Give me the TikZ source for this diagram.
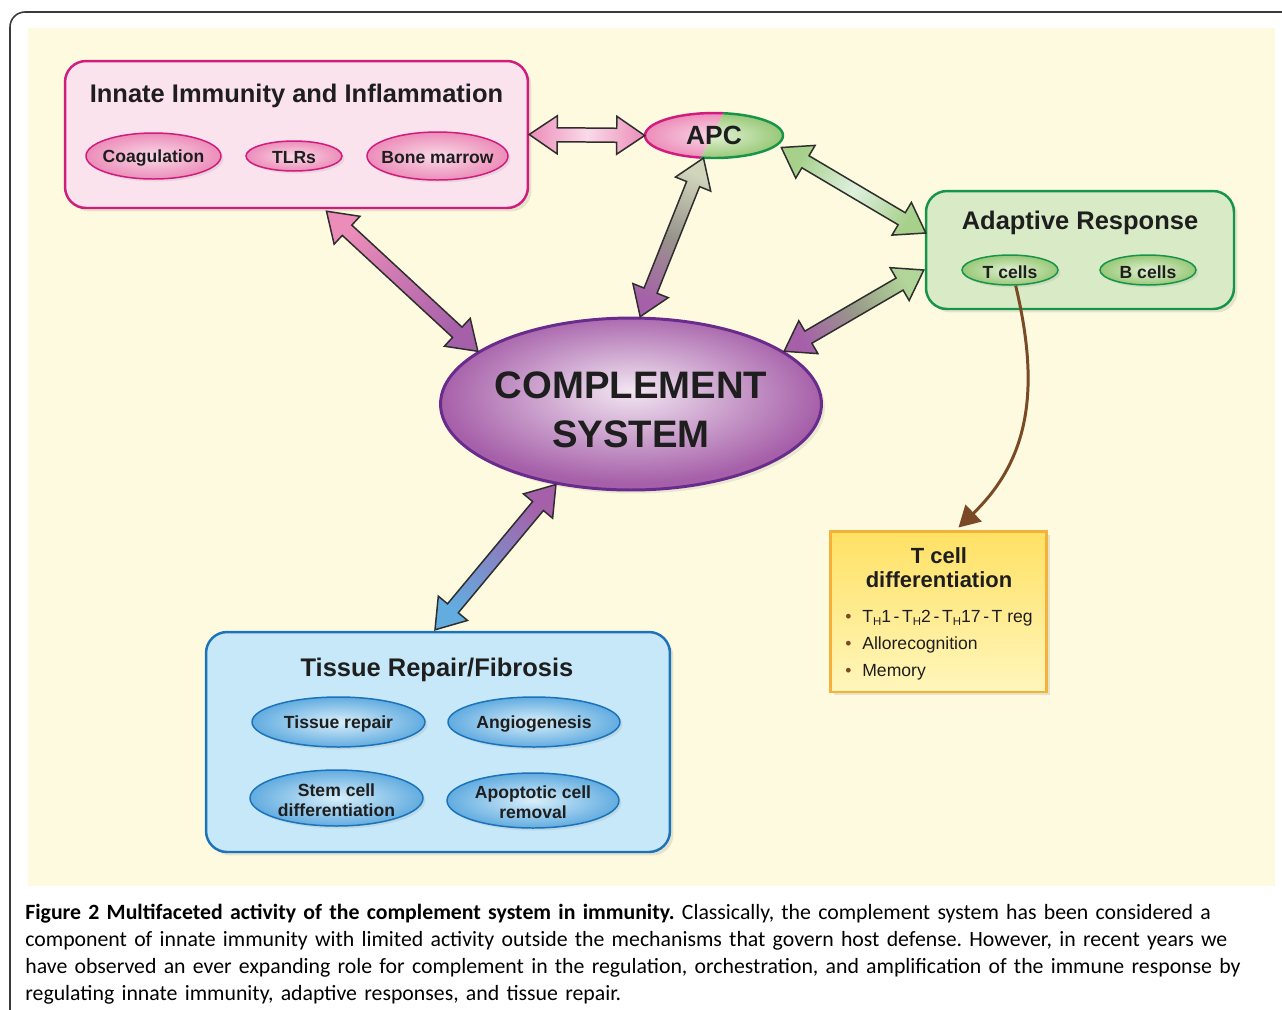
\documentclass[tikz,border=0pt]{standalone}
\usepackage{fontspec}
\setmainfont{Liberation Sans}
\newfontfamily\capfont{Carlito}
\usetikzlibrary{calc,shapes.geometric,shadows,arrows.meta}

\definecolor{cream}{HTML}{FDFADF}
\definecolor{framegray}{HTML}{3A3A3A}
\definecolor{inktext}{HTML}{1E1E1E}
\definecolor{pinkline}{HTML}{D01C7E}
\definecolor{pinkfill}{HTML}{FBE3EE}
\definecolor{pinkin}{HTML}{FADAE8}
\definecolor{pinkout}{HTML}{EC8DB9}
\definecolor{greenline}{HTML}{16954A}
\definecolor{greenfill}{HTML}{D9EBC6}
\definecolor{greenin}{HTML}{E2F1D3}
\definecolor{greenout}{HTML}{98C877}
\definecolor{blueline}{HTML}{1C73B9}
\definecolor{bluefill}{HTML}{C7E8F8}
\definecolor{bluein}{HTML}{D8EFFA}
\definecolor{blueout}{HTML}{62ACE0}
\definecolor{purpleline}{HTML}{6A2C8C}
\definecolor{purplein}{HTML}{F2E6F2}
\definecolor{purpleout}{HTML}{A660A9}
\definecolor{orangeline}{HTML}{F5B23B}
\definecolor{yellowtop}{HTML}{FFE164}
\definecolor{yellowbot}{HTML}{FFF6BC}
\definecolor{tbrown}{HTML}{7A4926}
\definecolor{arrowline}{HTML}{2E2E2E}

\pgfdeclareradialshading{pinkglow}{\pgfpoint{0bp}{0bp}}{color(0bp)=(pinkin); color(25bp)=(pinkout); color(50bp)=(pinkout)}
\pgfdeclareradialshading{greenglow}{\pgfpoint{0bp}{0bp}}{color(0bp)=(greenin); color(25bp)=(greenout); color(50bp)=(greenout)}
\pgfdeclareradialshading{blueglow}{\pgfpoint{0bp}{0bp}}{color(0bp)=(bluein); color(25bp)=(blueout); color(50bp)=(blueout)}
\pgfdeclareradialshading{purpleglow}{\pgfpoint{0bp}{4bp}}{color(0bp)=(purplein); color(25bp)=(purpleout); color(50bp)=(purpleout)}

% sizes of the fat two-headed arrows
\newcommand{\headlen}{0.56cm}
\newcommand{\headhalf}{0.38cm}
\newcommand{\shafthalf}{0.14cm}
% fat two-headed arrow: #1 from, #2 to, #3 colour at #1, #4 middle, #5 colour at #2
\newcommand{\fatarrow}[5]{%
  \pgfmathanglebetweenpoints{\pgfpointanchor{#1}{center}}{\pgfpointanchor{#2}{center}}%
  \pgfmathsetmacro{\fatangle}{\pgfmathresult+90}%
  \path[fatbody, left color=#3, right color=#5, middle color=#4, shading angle=\fatangle]
    (#1) -- ($(#1)!\headlen!(#2)!\headhalf!90:(#2)$)
    -- ($(#1)!\headlen!(#2)!\shafthalf!90:(#2)$)
    -- ($(#2)!\headlen!(#1)!\shafthalf!-90:(#1)$)
    -- ($(#2)!\headlen!(#1)!\headhalf!-90:(#1)$)
    -- (#2)
    -- ($(#2)!\headlen!(#1)!\headhalf!90:(#1)$)
    -- ($(#2)!\headlen!(#1)!\shafthalf!90:(#1)$)
    -- ($(#1)!\headlen!(#2)!\shafthalf!-90:(#2)$)
    -- ($(#1)!\headlen!(#2)!\headhalf!-90:(#2)$)
    -- cycle;}
\newcommand{\Hs}{\raisebox{-0.35ex}{\fontsize{6.5}{7}\selectfont H}}
\newcommand{\dsh}{\hspace{1.5pt}-\hspace{1.5pt}}
\newcommand{\bul}{\makebox[0.34cm][l]{\textcolor{tbrown}{\textbullet}}}

\begin{document}
\begin{tikzpicture}[x=0.02cm, y=-0.02cm, text=inktext,
% common options for the group boxes:
group/.style = {draw, rounded corners=0.42cm, line width=1.4pt, inner sep=0,
            drop shadow={opacity=0.18, shadow xshift=0.07cm, shadow yshift=-0.07cm}},
% common options for the box titles:
headline/.style = {anchor=base, inner sep=0, font=\bfseries\fontsize{14.5}{17}\selectfont},
% common options for the small ovals:
bead/.style = {ellipse, draw, line width=0.85pt, inner sep=0, shade,
            drop shadow={opacity=0.15, shadow xshift=0.05cm, shadow yshift=-0.05cm}},
beadtext/.style = {align=center, inner sep=0, yshift=-0.035cm, font=\bfseries\fontsize{10}{11.4}\selectfont},
pinkbead/.style = {bead, draw=pinkline, shading=pinkglow},
greenbead/.style = {bead, draw=greenline, shading=greenglow},
bluebead/.style = {bead, draw=blueline, shading=blueglow},
% outline of the fat arrows:
fatbody/.style = {draw=arrowline, line width=0.85pt, line join=miter},
% the curved T cell arrow:
tline/.style = {draw=tbrown, line width=1.7pt}]
\useasboundingbox (0,0) rectangle (1282,1009);
\clip (0,0) rectangle (1282,1009);
\draw[framegray, line width=0.9pt, rounded corners=0.3cm] (10,12) rectangle (1320,1040);
\fill[cream] (28,28) rectangle (1275,886);

% innate immunity group
\node[group, draw=pinkline, fill=pinkfill, minimum width=9.26cm, minimum height=2.94cm] (inn) at (296.5,134.5) {};
\node[headline] (innT) at (296.5,102) {Innate Immunity and Inflammation};
\node[pinkbead, minimum width=2.7cm, minimum height=0.92cm, label={[beadtext]center:Coagulation}] (coag) at (153.5,156) {};
\node[pinkbead, minimum width=1.92cm, minimum height=0.6cm, label={[beadtext]center:TLRs}] (tlr) at (294,156) {};
\node[pinkbead, minimum width=2.82cm, minimum height=0.96cm, label={[beadtext]center:Bone marrow}] (bone) at (437.5,156) {};

% APC, half pink and half green
\begin{scope}
  \clip (600,95) -- (733,95) -- (692,175) -- (600,175) -- cycle;
  \path[shade, shading=pinkglow, draw=pinkline, line width=1.4pt] (714,135.5) ellipse [x radius=1.38cm, y radius=0.45cm];
\end{scope}
\begin{scope}
  \clip (733,95) -- (820,95) -- (820,175) -- (692,175) -- cycle;
  \path[shade, shading=greenglow, draw=greenline, line width=1.4pt] (714,135.5) ellipse [x radius=1.38cm, y radius=0.45cm];
\end{scope}
\node[ellipse, minimum width=2.76cm, minimum height=0.9cm, inner sep=0, font=\bfseries\fontsize{15}{18}\selectfont] (apc) at (714,135.5) {APC};

% adaptive response group
\node[group, draw=greenline, fill=greenfill, minimum width=6.16cm, minimum height=2.36cm] (adp) at (1080,250) {};
\node[headline] (adpT) at (1080,229) {Adaptive Response};
\node[greenbead, minimum width=1.92cm, minimum height=0.6cm, label={[beadtext]center:T cells}] (tc) at (1010,270) {};
\node[greenbead, minimum width=1.92cm, minimum height=0.6cm, label={[beadtext]center:B cells}] (bc) at (1148,270) {};

% complement system
\node[ellipse, draw=purpleline, line width=1.7pt, shade, shading=purpleglow, inner sep=0,
      minimum width=7.62cm, minimum height=3.44cm,
      drop shadow={opacity=0.15, shadow xshift=0.07cm, shadow yshift=-0.07cm},
      label={[align=center, inner sep=0, yshift=-0.12cm, font=\bfseries\fontsize{21.8}{28}\selectfont]center:COMPLEMENT\\SYSTEM}] (comp) at (631,404) {};

% tissue repair group
\node[group, draw=blueline, fill=bluefill, minimum width=9.28cm, minimum height=4.4cm] (tis) at (438,742) {};
\node[headline] (tisT) at (437,676) {Tissue Repair/Fibrosis};
\node[bluebead, minimum width=3.46cm, minimum height=1.0cm, label={[beadtext]center:Tissue repair}] (trep) at (338.5,722) {};
\node[bluebead, minimum width=3.44cm, minimum height=1.0cm, label={[beadtext]center:Angiogenesis}] (angio) at (534,722) {};
\node[bluebead, minimum width=3.46cm, minimum height=1.12cm, label={[beadtext]center:Stem cell\\differentiation}] (stem) at (336.5,798) {};
\node[bluebead, minimum width=3.44cm, minimum height=1.1cm, label={[beadtext]center:Apoptotic cell\\removal}] (apop) at (533,800.5) {};

% T cell differentiation box
\node[draw=orangeline, line width=1.7pt, top color=yellowtop, bottom color=yellowbot, inner sep=0,
      minimum width=4.34cm, minimum height=3.22cm,
      drop shadow={opacity=0.18, shadow xshift=0.07cm, shadow yshift=-0.07cm}] (tdiff) at (938.5,611.5) {};
\node[align=center, inner sep=0, font=\bfseries\fontsize{12.5}{13.7}\selectfont] (tdiffT) at (939,568) {T cell\\differentiation};
\node[anchor=base west, inner sep=0, font=\fontsize{10}{12}\selectfont] (tl1) at (845,622) {\bul T\Hs1\dsh T\Hs2\dsh T\Hs17\dsh T reg};
\node[anchor=base west, inner sep=0, font=\fontsize{10}{12}\selectfont] (tl2) at (845,649) {\bul Allorecognition};
\node[anchor=base west, inner sep=0, font=\fontsize{10}{12}\selectfont] (tl3) at (845,676) {\bul Memory};

% end points of the fat arrows
\coordinate (innE) at (inn.east);
\coordinate (apcW) at (apc.west);
\coordinate (innS) at ($(inn.south)+(30,2)$);
\coordinate (compNW) at (comp.161);
\coordinate (apcS) at (apc.245);
\coordinate (compN) at (comp.84);
\coordinate (apcE) at ($(apc.east)+(-2,12)$);
\coordinate (adpW1) at ($(adp.west)+(1,-17)$);
\coordinate (adpW2) at ($(adp.west)+(-1,20)$);
\coordinate (compNE) at (comp.19);
\coordinate (compS) at (comp.227);
\coordinate (tisN) at ($(tis.north)+(-3,-1)$);

\fatarrow{innE}{apcW}{pinkout}{pinkin}{pinkout}
\fatarrow{innS}{compNW}{pinkout}{pinkout!50!purpleout}{purpleout}
\fatarrow{apcS}{compN}{greenout!60!tbrown!40!white}{purpleout!45!greenout!80!gray}{purpleout}
\fatarrow{apcE}{adpW1}{greenout!85!white}{greenin!70!bluein}{greenout!85!white}
\fatarrow{adpW2}{compNE}{greenout!75!white}{purpleout!40!greenout!80!gray}{purpleout}
\fatarrow{compS}{tisN}{purpleout}{purpleout!50!blueout}{blueout}

% T cells lead to their differentiation
\coordinate (tdiffN) at ($(tdiff.north)+(20,-2)$);
\draw[tline, -{Triangle[length=0.42cm, width=0.46cm]}] (tc.290) .. controls (1038,380) and (1034,455) .. (tdiffN);

% caption
\node[anchor=north west, inner sep=0, text width=24.8cm, align=left, text=black,
      font=\capfont\fontsize{12.4}{15.4}\selectfont\frenchspacing] (cap) at (25,904)
  {\textbf{Figure 2 Multifaceted activity of the complement system in immunity.} Classically, the complement system has been considered a\\
   component of innate immunity with limited activity outside the mechanisms that govern host defense. However, in recent years we\\
   have observed an ever expanding role for complement in the regulation, orchestration, and amplification of the immune response by\\
   regulating innate immunity, adaptive responses, and tissue repair.};
\end{tikzpicture}
\end{document}
